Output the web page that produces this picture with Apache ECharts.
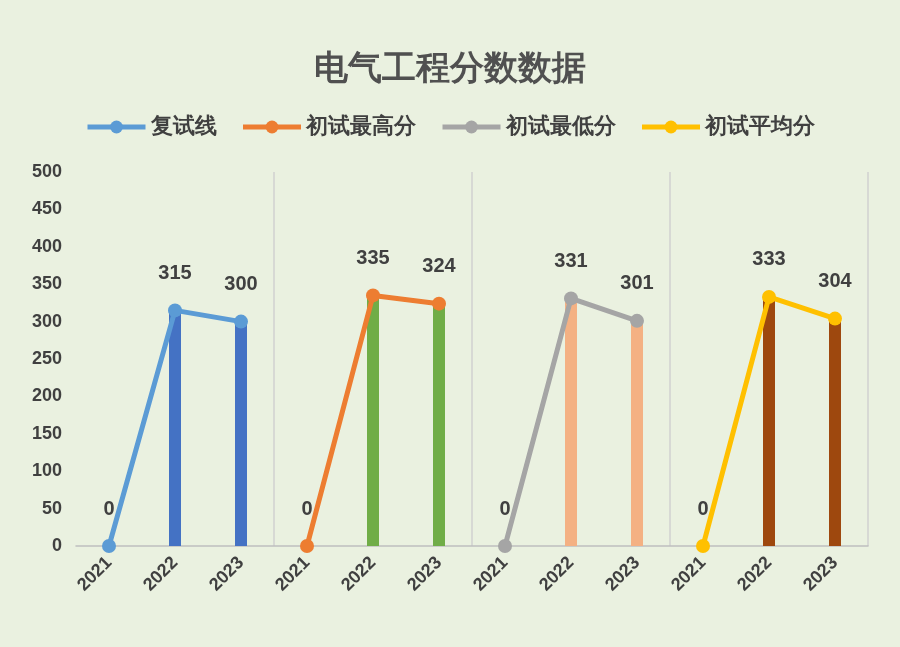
<!DOCTYPE html>
<html>
<head>
<meta charset="utf-8">
<script src="https://cdn.jsdelivr.net/npm/echarts@6/dist/echarts.min.js"></script>
<style>
html, body { margin: 0; padding: 0; background: #eaf1e0; }
#chart1 { width: 900px; height: 647px; }
</style>
</head>
<body>
<div id="chart1"></div>
<script>
const years = ['2021', '2022', '2023'];
const seriesNames = ['复试线', '初试最高分', '初试最低分', '初试平均分'];
const fushiLine = [0, 315, 300];
const maxScore = [0, 335, 324];
const minScore = [0, 331, 301];
const avgScore = [0, 333, 304];
const lineColors = ['#5b9bd5', '#ed7d31', '#a5a5a5', '#ffc000'];
const barColors = ['#4472c4', '#70ad47', '#f4b183', '#9e480e'];

let categories = [];
for (let g = 0; g < 4; g++) categories = categories.concat(years);
const allValues = [fushiLine, maxScore, minScore, avgScore];

let series = [];
let barData = [];
allValues.forEach(function (vals, g) {
    let d = categories.map(() => '-');
    vals.forEach(function (v, i) {
        d[g * 3 + i] = v;
        if (i > 0) barData[g * 3 + i] = { value: v, itemStyle: { color: barColors[g] } };
    });
    series.push({
        name: seriesNames[g],
        type: 'line',
        data: d,
        z: 3,
        symbol: 'circle',
        symbolSize: 14,
        lineStyle: { width: 5, color: lineColors[g] },
        itemStyle: { color: lineColors[g] },
        label: {
            show: true, position: 'top', distance: 20,
            fontSize: 20, fontWeight: 'bold', color: '#404040'
        }
    });
});
for (let i = 0; i < categories.length; i++) if (!barData[i]) barData[i] = '-';
series.push({ type: 'bar', data: barData, barWidth: 12, z: 1 });

let chart1 = echarts.init(document.getElementById('chart1'));
chart1.setOption({
    backgroundColor: '#eaf1e0',
    title: {
        text: '电气工程分数数据', left: 'center', top: 48,
        textStyle: { fontSize: 34, fontWeight: 'bold', color: '#505050' }
    },
    legend: {
        data: seriesNames, top: 111, left: 'center', itemGap: 24,
        itemWidth: 58, itemHeight: 16,
        lineStyle: { width: 5 },
        textStyle: { fontSize: 22, fontWeight: 'bold', color: '#404040' }
    },
    grid: { left: 76, right: 32, top: 172, bottom: 101 },
    xAxis: {
        type: 'category', data: categories,
        axisLine: { lineStyle: { color: '#bfbfbf', width: 1.5 } },
        axisTick: { show: false },
        axisLabel: { rotate: 45, fontSize: 18, fontWeight: 'bold', color: '#404040', margin: 14 },
        splitLine: { show: true, interval: (i) => i % 3 === 0 && i > 0, lineStyle: { color: '#d0d0d0', width: 1.5 } }
    },
    yAxis: {
        type: 'value', min: 0, max: 500, interval: 50,
        axisLine: { show: false }, axisTick: { show: false },
        splitLine: { show: false },
        axisLabel: { fontSize: 18, fontWeight: 'bold', color: '#404040', margin: 14 }
    },
    series: series
});
</script>
</body>
</html>
